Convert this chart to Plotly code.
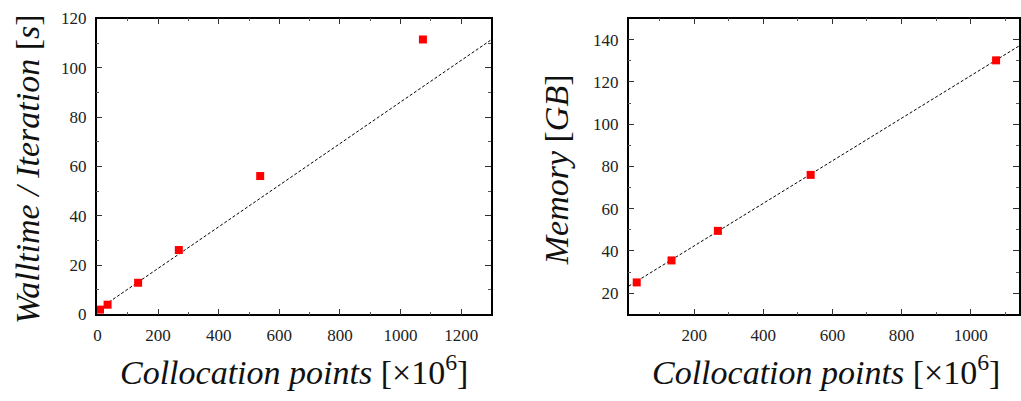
import plotly.graph_objects as go

# ---- data ----
points_wall = [8.4, 33.5, 134.2, 268.4, 536.9, 1073.7]      # collocation points [x1e6]
walltime = [1.9, 3.9, 12.8, 26.1, 56.1, 111.5]             # s / iteration
wall_fit_x = [-3, 1297]
wall_fit_y = [1.5, 111.2]

points_mem = [33.5, 134.2, 268.4, 536.9, 1073.7]
memory = [25.1, 35.5, 49.5, 76.0, 130.2]                    # GB
mem_fit_x = [10, 1140]
mem_fit_y = [23.3, 137.0]

W, H = 1021, 401
FONT = "Liberation Serif"

fig = go.Figure()

fig.add_trace(go.Scatter(x=wall_fit_x, y=wall_fit_y, mode="lines",
                         line=dict(color="black", width=1, dash="3px,2px"),
                         xaxis="x", yaxis="y", showlegend=False))
fig.add_trace(go.Scatter(x=points_wall, y=walltime, mode="markers",
                         marker=dict(symbol="square", size=8, color="#ff0000"),
                         cliponaxis=False, xaxis="x", yaxis="y", showlegend=False))
fig.add_trace(go.Scatter(x=mem_fit_x, y=mem_fit_y, mode="lines",
                         line=dict(color="black", width=1, dash="3px,2px"),
                         xaxis="x2", yaxis="y2", showlegend=False))
fig.add_trace(go.Scatter(x=points_mem, y=memory, mode="markers",
                         marker=dict(symbol="square", size=8, color="#ff0000"),
                         cliponaxis=False, xaxis="x2", yaxis="y2", showlegend=False))

ydom = [(H - 320.5) / H, (H - 10) / H]

def ax(dom, rng, dtick, minor, anchor):
    return dict(domain=dom, range=rng, anchor=anchor, showgrid=False, zeroline=False,
                showline=True, linecolor="black", linewidth=1.5, mirror="allticks",
                ticks="inside", ticklen=6, tickwidth=1, tickcolor="#333",
                tickfont=dict(family=FONT, size=17, color="#222"),
                minor=dict(dtick=minor, ticks="inside", ticklen=3, tickwidth=1, tickcolor="#555"),
                dtick=dtick, tick0=0, ticklabelstandoff=5)

fig.update_layout(
    width=W, height=H, margin=dict(l=0, r=0, t=0, b=0),
    paper_bgcolor="white", plot_bgcolor="white",
    font=dict(family=FONT, color="#222"),
    xaxis=ax([94 / W, 490 / W], [-3, 1297], 200, 100, "y"),
    yaxis=ax(ydom, [0, 120], 20, 10, "x"),
    xaxis2=ax([628.7 / W, 1.0], [10, 1140], 200, 100, "y2"),
    yaxis2=ax(ydom, [10, 150], 20, 10, "x2"),
)

title_font = dict(family=FONT, size=34, color="#111")
xt = "<i>Collocation points</i> [×10<sup>6</sup>]"
fig.add_annotation(text=xt, x=292 / W, y=(H - 379) / H, xref="paper", yref="paper",
                   showarrow=False, font=title_font, xanchor="center", yanchor="middle")
fig.add_annotation(text=xt, x=827 / W, y=(H - 379) / H, xref="paper", yref="paper",
                   showarrow=False, font=title_font, xanchor="center", yanchor="middle")
fig.add_annotation(text="<i>Walltime / Iteration</i> [<i>s</i>]", x=24 / W, y=(H - 168) / H,
                   xref="paper", yref="paper", showarrow=False, font=title_font,
                   textangle=-90, xanchor="center", yanchor="middle")
fig.add_annotation(text="<i>Memory</i> [<i>GB</i>]", x=557 / W, y=(H - 169) / H,
                   xref="paper", yref="paper", showarrow=False, font=title_font,
                   textangle=-90, xanchor="center", yanchor="middle")

fig.write_html("out.html")
